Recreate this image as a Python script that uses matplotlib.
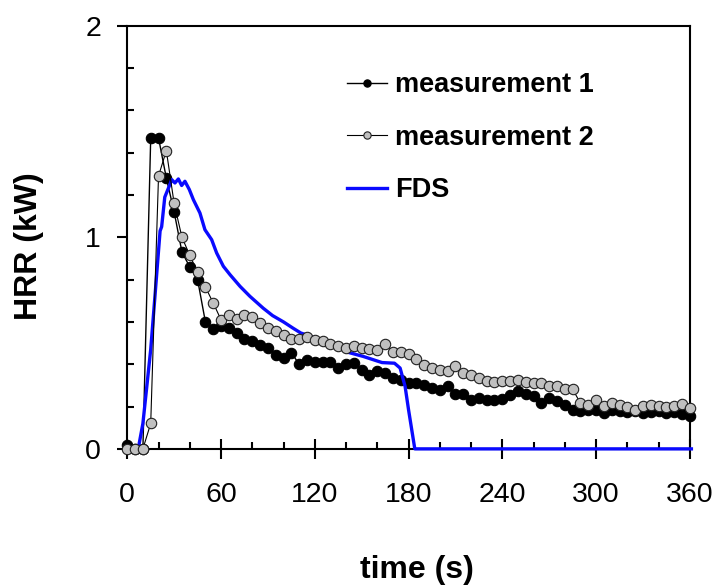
import matplotlib
matplotlib.use("Agg")
import matplotlib.pyplot as plt
from matplotlib.ticker import MultipleLocator

plt.rcParams["font.family"] = ["Liberation Sans", "DejaVu Sans"]

# measurements sampled every 5 s
time_meas = list(range(0, 365, 5))
meas1 = [0.02, 0.0, 0.0, 1.47, 1.47, 1.28, 1.12, 0.93, 0.86, 0.80,
         0.60, 0.565, 0.58, 0.57, 0.55, 0.52, 0.51, 0.49, 0.475, 0.445,
         0.43, 0.455, 0.40, 0.42, 0.41, 0.41, 0.41, 0.38, 0.40, 0.405,
         0.375, 0.35, 0.37, 0.36, 0.335, 0.325, 0.31, 0.31, 0.30, 0.287,
         0.28, 0.297, 0.258, 0.26, 0.232, 0.24, 0.23, 0.233, 0.235, 0.256,
         0.272, 0.258, 0.248, 0.218, 0.242, 0.224, 0.208, 0.185, 0.178, 0.185,
         0.185, 0.17, 0.185, 0.18, 0.175, 0.18, 0.17, 0.175, 0.18, 0.17,
         0.175, 0.165, 0.155]
meas2 = [0.0, 0.0, 0.0, 0.12, 1.29, 1.41, 1.16, 1.0, 0.915, 0.835,
         0.765, 0.69, 0.61, 0.634, 0.614, 0.634, 0.623, 0.595, 0.571, 0.555,
         0.54, 0.519, 0.519, 0.531, 0.513, 0.508, 0.497, 0.484, 0.476, 0.484,
         0.476, 0.472, 0.468, 0.497, 0.46, 0.456, 0.45, 0.424, 0.397, 0.382,
         0.374, 0.37, 0.393, 0.361, 0.35, 0.334, 0.322, 0.316, 0.319, 0.322,
         0.327, 0.316, 0.311, 0.311, 0.298, 0.295, 0.282, 0.282, 0.216, 0.208,
         0.229, 0.203, 0.219, 0.208, 0.197, 0.185, 0.203, 0.208, 0.205, 0.197,
         0.203, 0.213, 0.193]

# FDS prediction
time_fds = [0, 7, 10, 15, 17.7, 21, 22, 24, 27.3, 28.4, 30.5, 32.7, 34.8, 36.9,
            39.7, 42.3, 46.5, 49.7, 54, 57.2, 61.5, 65.8, 72.2, 78.5, 87, 93,
            100, 106, 111, 118, 125, 132, 141.5, 151, 163, 171, 174.6, 177.8,
            180, 184, 361]
hrr_fds = [0, 0, 0.12, 0.47, 0.72, 1.03, 1.05, 1.19, 1.25, 1.273, 1.257, 1.276,
           1.245, 1.265, 1.226, 1.178, 1.115, 1.036, 0.989, 0.926, 0.863, 0.823,
           0.768, 0.721, 0.665, 0.63, 0.6, 0.571, 0.548, 0.53, 0.508, 0.49,
           0.456, 0.437, 0.408, 0.405, 0.382, 0.295, 0.185, 0.0, 0.0]

fig = plt.figure(figsize=(7.13, 5.86), dpi=100)
ax = fig.add_axes([0.1785, 0.234, 0.789, 0.722])

ax.plot(time_meas, meas1, color="black", lw=1, marker="o", ms=7.5,
        mfc="black", mec="black", mew=0.8, clip_on=False, zorder=3,
        label="measurement 1")
ax.plot(time_fds, hrr_fds, color="#0a0aff", lw=2.4, clip_on=False, zorder=4,
        label="FDS")
ax.plot(time_meas, meas2, color="black", lw=0.8, marker="o", ms=7.5,
        mfc="#c0c0c0", mec="#202020", mew=0.8, clip_on=False, zorder=5,
        label="measurement 2")

ax.set_xlim(0, 360)
ax.set_ylim(0, 2)
ax.xaxis.set_major_locator(MultipleLocator(60))
ax.xaxis.set_minor_locator(MultipleLocator(20))
ax.yaxis.set_major_locator(MultipleLocator(1))
ax.yaxis.set_minor_locator(MultipleLocator(0.2))

for s in ax.spines.values():
    s.set_linewidth(1.5)
ax.tick_params(axis="x", which="major", direction="inout", length=14,
               width=1.5, labelsize=20.5, pad=17)
ax.tick_params(axis="x", which="minor", direction="in", length=5, width=1.5)
ax.tick_params(axis="y", which="major", direction="out", length=7,
               width=1.5, labelsize=20.5, pad=12)
ax.tick_params(axis="y", which="minor", direction="in", length=5, width=1.5)

ax.set_xlabel("time (s)", fontsize=23, fontweight="bold")
ax.xaxis.set_label_coords(0.515, -0.252)
ax.set_ylabel("HRR (kW)", fontsize=23, fontweight="bold")
ax.yaxis.set_label_coords(-0.148, 0.48)

handles, labels = ax.get_legend_handles_labels()
order = [0, 2, 1]
leg = ax.legend([handles[i] for i in order], [labels[i] for i in order],
                loc="upper left", bbox_to_anchor=(0.39, 0.89), frameon=False,
                prop={"size": 19.5, "weight": "bold"}, handlelength=1.5,
                handletextpad=0.3, labelspacing=0.98, markerscale=0.7,
                borderaxespad=0, borderpad=0)

fig.savefig("out.png", dpi=100)
